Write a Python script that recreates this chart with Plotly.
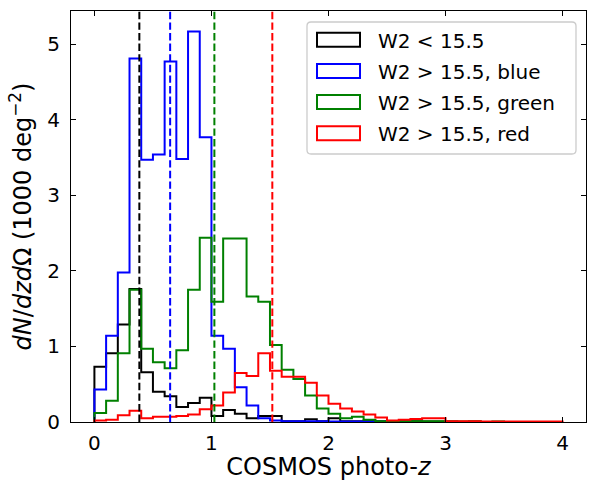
import plotly.graph_objects as go

# ---------------- data ----------------
bin_width = 0.1
n_bins = 40
series_names = ["W2 < 15.5", "W2 > 15.5, blue", "W2 > 15.5, green", "W2 > 15.5, red"]
series_colors = ["#000000", "#0000ff", "#008000", "#ff0000"]

black_vals = [0.73, 0.91, 1.29, 1.76, 0.66, 0.40, 0.34, 0.20, 0.25, 0.32,
              0.08, 0.16, 0.11, 0.05, 0.08, 0.08, 0.01, 0.01, 0.035, 0.01,
              0.05, 0.01, 0.01, 0.02, 0.01, 0.005, 0.01, 0.01, 0.005, 0.005,
              0.005, 0.0, 0.005, 0.0, 0.0, 0.0, 0.0, 0.0, 0.0, 0.0]
blue_vals = [0.43, 1.14, 1.98, 4.81, 3.47, 3.54, 4.77, 3.48, 5.17, 3.77,
             1.14, 0.97, 0.46, 0.22, 0.05, 0.02, 0.01, 0.01, 0.01, 0.01,
             0.005, 0.005, 0.005, 0.005, 0.005, 0.0, 0.005, 0.0, 0.0, 0.0,
             0.0, 0.0, 0.0, 0.0, 0.0, 0.0, 0.0, 0.0, 0.0, 0.0]
green_vals = [0.12, 0.28, 0.91, 1.75, 0.97, 0.79, 0.71, 0.95, 1.75, 2.44,
              1.59, 2.43, 2.43, 1.66, 1.59, 1.02, 0.69, 0.57, 0.35, 0.18,
              0.11, 0.05, 0.07, 0.03, 0.01, 0.01, 0.01, 0.01, 0.01, 0.01,
              0.005, 0.005, 0.005, 0.0, 0.005, 0.0, 0.0, 0.0, 0.0, 0.0]
red_vals = [0.02, 0.03, 0.09, 0.15, 0.05, 0.07, 0.07, 0.08, 0.10, 0.17,
            0.22, 0.39, 0.65, 0.61, 0.91, 0.68, 0.60, 0.60, 0.52, 0.35,
            0.24, 0.18, 0.14, 0.10, 0.06, 0.02, 0.03, 0.04, 0.05, 0.05,
            0.01, 0.01, 0.01, 0.005, 0.005, 0.005, 0.005, 0.005, 0.005, 0.005]
medians = [0.384, 0.647, 1.025, 1.52]

x_ticks = [0, 1, 2, 3, 4]
y_ticks = [0, 1, 2, 3, 4, 5]

all_vals = [black_vals, blue_vals, green_vals, red_vals]

# ---------------- figure ----------------
W, H = 589, 481
ML, MR, MT, MB = 71, 3, 11, 59
PL, PR, PT, PB = ML, W - MR, MT, H - MB

def px2paper_x(px):
    return (px - PL) / (PR - PL)

def px2paper_y(py):
    return (PB - py) / (PB - PT)

edges = [i * bin_width for i in range(n_bins + 1)]

fig = go.Figure()
for name, color, vals in zip(series_names, series_colors, all_vals):
    xs = [edges[0]] + edges
    ys = [0.0] + list(vals) + [0.0]
    fig.add_trace(go.Scatter(
        x=xs, y=ys, mode="lines", name=name,
        line=dict(color=color, width=2, shape="hv"),
        showlegend=False, hoverinfo="skip"))

shapes = []
for m, color in zip(medians, series_colors):
    shapes.append(dict(type="line", xref="x", yref="y domain", x0=m, x1=m, y0=0, y1=1,
                       line=dict(color=color, width=2, dash="7.4px,3.2px")))

# custom matplotlib-style legend
bx0, bx1, by0, by1 = 307, 576, 22, 154
r = 4
X = lambda p: px2paper_x(p)
Y = lambda p: px2paper_y(p)
path = (f"M{X(bx0 + r)},{Y(by0)} L{X(bx1 - r)},{Y(by0)} Q{X(bx1)},{Y(by0)} {X(bx1)},{Y(by0 + r)} "
        f"L{X(bx1)},{Y(by1 - r)} Q{X(bx1)},{Y(by1)} {X(bx1 - r)},{Y(by1)} "
        f"L{X(bx0 + r)},{Y(by1)} Q{X(bx0)},{Y(by1)} {X(bx0)},{Y(by1 - r)} "
        f"L{X(bx0)},{Y(by0 + r)} Q{X(bx0)},{Y(by0)} {X(bx0 + r)},{Y(by0)} Z")
shapes.append(dict(type="path", xref="paper", yref="paper", path=path,
                   fillcolor="rgba(255,255,255,0.8)", line=dict(color="#cccccc", width=1.3)))

annotations = []
row0, row_step = 39.7, 31.2
for i, (name, color) in enumerate(zip(series_names, series_colors)):
    cy = row0 + i * row_step
    shapes.append(dict(type="rect", xref="paper", yref="paper",
                       x0=X(317), x1=X(360), y0=Y(cy - 7), y1=Y(cy + 7),
                       fillcolor="rgba(0,0,0,0)", line=dict(color=color, width=2)))
    label = name.replace("<", "&lt;").replace(">", "&gt;")
    annotations.append(dict(xref="paper", yref="paper", x=X(376), y=Y(cy + 1),
                            text=label, showarrow=False, xanchor="left", yanchor="middle",
                            font=dict(family="DejaVu Sans", size=20, color="black")))

axis_common = dict(showline=True, linecolor="black", linewidth=1.1, mirror="ticks",
                   ticks="inside", ticklen=5, tickwidth=1.1, tickcolor="black",
                   showgrid=False, zeroline=False, automargin=False,
                   tickfont=dict(family="DejaVu Sans", size=20, color="black"))

fig.update_layout(
    width=W, height=H,
    margin=dict(l=ML, r=MR, t=MT, b=MB, pad=0),
    paper_bgcolor="white", plot_bgcolor="white",
    shapes=shapes, annotations=annotations,
    xaxis=dict(range=[-0.2, 4.2], tickvals=x_ticks, ticklabelstandoff=3,
               title=dict(text="COSMOS photo-<i>z</i>", standoff=9,
                          font=dict(family="DejaVu Sans", size=24, color="black")),
               **axis_common),
    yaxis=dict(range=[0, 5.44], tickvals=y_ticks, ticklabelstandoff=6,
               title=dict(text="<i>dN</i>/<i>dzd</i>Ω (1000 deg<sup>−2</sup>)", standoff=8,
                          font=dict(family="DejaVu Sans", size=24, color="black")),
               **axis_common),
    showlegend=False,
)

fig.write_html("out.html")
